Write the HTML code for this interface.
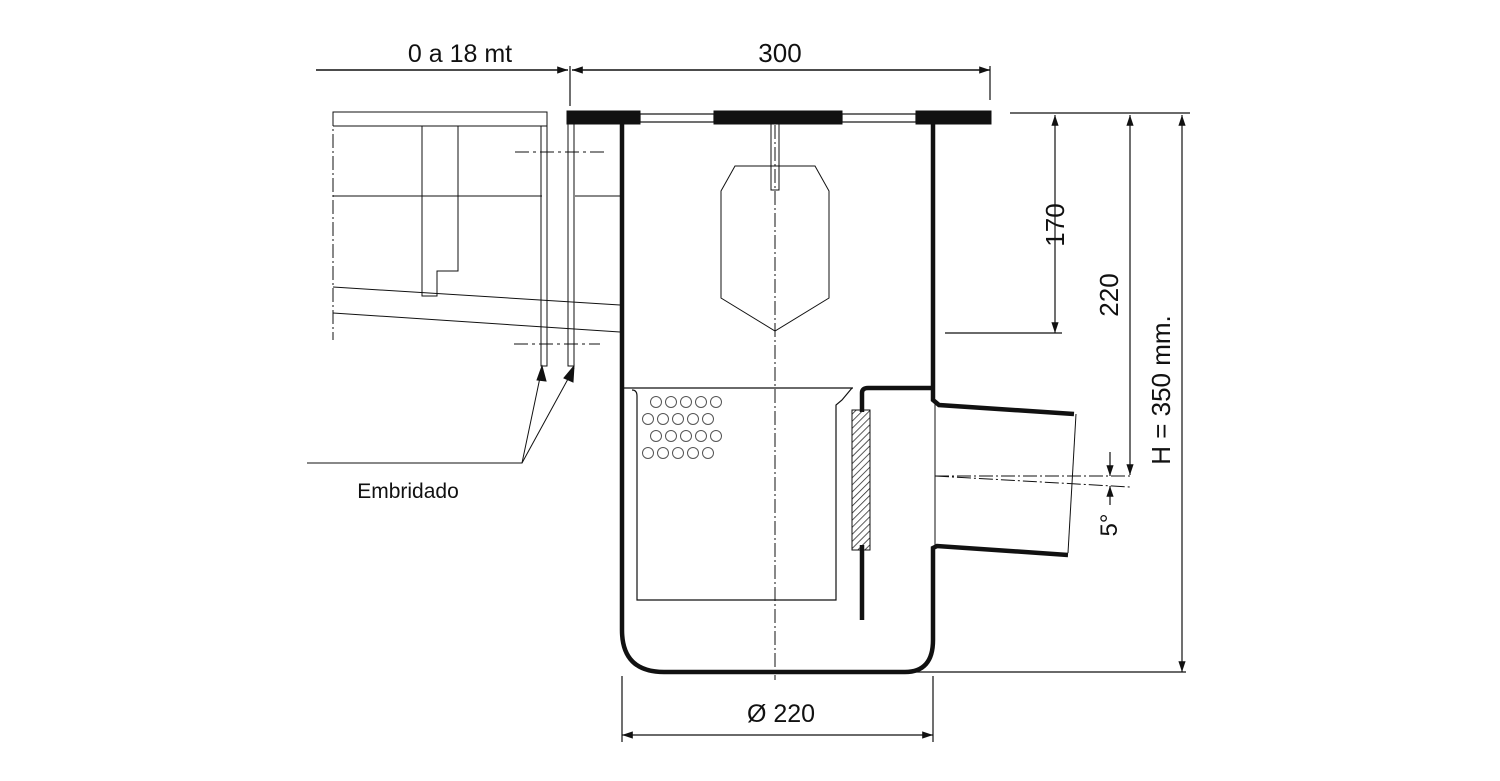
<!DOCTYPE html>
<html><head><style>body{margin:0;background:#fff}svg{display:block}text{font-family:"Liberation Sans",sans-serif;fill:#111}</style></head><body>
<svg width="1500" height="781" viewBox="0 0 1500 781" xmlns="http://www.w3.org/2000/svg">
<defs>
<marker id="a" viewBox="0 0 12 10" refX="12" refY="5" markerWidth="12" markerHeight="9" orient="auto-start-reverse" markerUnits="userSpaceOnUse"><path d="M0,1 L12,5 L0,9Z" fill="#111"/></marker>
<pattern id="h" width="5" height="5" patternUnits="userSpaceOnUse" patternTransform="rotate(45)"><line x1="0" y1="0" x2="0" y2="5" stroke="#222" stroke-width="1.5"/></pattern>
</defs>
<g stroke="#111" fill="none">
<line x1="316" y1="70" x2="568" y2="70" stroke-width="1.5" marker-end="url(#a)"/>
<line x1="572" y1="70" x2="990" y2="70" stroke-width="1.5" marker-start="url(#a)" marker-end="url(#a)"/>
<line x1="570" y1="66" x2="570" y2="106" stroke-width="1.2"/>
<line x1="990" y1="66" x2="990" y2="100" stroke-width="1.2"/>
<rect x="640" y="114" width="74" height="8" stroke-width="1.2"/>
<rect x="842" y="114" width="74" height="8" stroke-width="1.2"/>
<rect x="567" y="111" width="73" height="13" fill="#111"/>
<rect x="714" y="111" width="128" height="13" fill="#111"/>
<rect x="916" y="111" width="75" height="13" fill="#111"/>
<path d="M622,122 V630 Q622,672 664,672 H905 Q933,672 933,640 V548 L937,546 L1068,555" stroke-width="4.5"/>
<path d="M933,122 V400 L939,405 L1074,414" stroke-width="4.5"/>
<line x1="1076" y1="414" x2="1068" y2="553" stroke-width="1"/>
<line x1="935" y1="400" x2="935" y2="548" stroke-width="1"/>
<line x1="622" y1="388" x2="853" y2="388" stroke-width="1.2"/>
<path d="M632,390 Q637,390 637,396 V600 H836 V405 L842,400 L852,388" stroke-width="1.2"/>
<path d="M862,412 V393 Q862,388 868,388 H931" stroke-width="4.5"/>
<rect x="852" y="410" width="18" height="140" fill="url(#h)" stroke-width="1"/>
<line x1="862" y1="545" x2="862" y2="620" stroke-width="4.5"/>
<g stroke-width="1" stroke="#555">
<circle cx="656" cy="402" r="5.5"/><circle cx="671" cy="402" r="5.5"/><circle cx="686" cy="402" r="5.5"/><circle cx="701" cy="402" r="5.5"/><circle cx="716" cy="402" r="5.5"/>
<circle cx="648" cy="419" r="5.5"/><circle cx="663" cy="419" r="5.5"/><circle cx="678" cy="419" r="5.5"/><circle cx="693" cy="419" r="5.5"/><circle cx="708" cy="419" r="5.5"/>
<circle cx="656" cy="436" r="5.5"/><circle cx="671" cy="436" r="5.5"/><circle cx="686" cy="436" r="5.5"/><circle cx="701" cy="436" r="5.5"/><circle cx="716" cy="436" r="5.5"/>
<circle cx="648" cy="453" r="5.5"/><circle cx="663" cy="453" r="5.5"/><circle cx="678" cy="453" r="5.5"/><circle cx="693" cy="453" r="5.5"/><circle cx="708" cy="453" r="5.5"/>
</g>
<line x1="775" y1="125" x2="775" y2="680" stroke-width="1" stroke-dasharray="14,3,2,3"/>
<rect x="771" y="124" width="8" height="66" stroke-width="1"/>
<path d="M735,166 H815 L829,191 V298 L775,331 L721,298 V191Z" stroke-width="1"/>
<g stroke-width="1">
<path d="M333,124 V112 H547 V126 H333"/>
<line x1="333" y1="112" x2="333" y2="340" stroke-dasharray="14,3,2,3"/>
<line x1="333" y1="196" x2="542" y2="196"/><line x1="575" y1="196" x2="620" y2="196"/>
<path d="M422,126 V296 H437 V271 H458 V126"/>
<line x1="333" y1="287" x2="620" y2="305"/>
<line x1="333" y1="313" x2="620" y2="332"/>
<rect x="541" y="126" width="6" height="240"/>
<rect x="568" y="124" width="6" height="242"/>
<line x1="515" y1="152" x2="605" y2="152" stroke-dasharray="14,4,3,4"/>
<line x1="514" y1="344" x2="600" y2="344" stroke-dasharray="14,4,3,4"/>
<polyline points="307,463 522,463 542,368"/>
<line x1="522" y1="463" x2="574" y2="368"/>
</g>
<path d="M537,380 L542,366 L546,381Z M564,378 L574,366 L573,382Z" fill="#111"/>
<g stroke-width="1.2">
<line x1="1010" y1="113" x2="1190" y2="113"/>
<line x1="945" y1="333" x2="1062" y2="333"/>
<line x1="1055" y1="115" x2="1055" y2="333" marker-start="url(#a)" marker-end="url(#a)"/>
<line x1="1130" y1="115" x2="1130" y2="475" marker-start="url(#a)" marker-end="url(#a)"/>
<line x1="1182" y1="115" x2="1182" y2="672" marker-start="url(#a)" marker-end="url(#a)"/>
<line x1="915" y1="672" x2="1186" y2="672"/>
<line x1="935" y1="476" x2="1130" y2="476" stroke-dasharray="14,3,2,3" stroke-width="1"/>
<line x1="935" y1="476" x2="1130" y2="487" stroke-dasharray="14,3,2,3" stroke-width="1"/>
<line x1="1110" y1="452" x2="1110" y2="476" marker-end="url(#a)"/>
<line x1="1110" y1="505" x2="1110" y2="486" marker-end="url(#a)"/>
<line x1="622" y1="676" x2="622" y2="742"/>
<line x1="933" y1="676" x2="933" y2="742"/>
<line x1="622" y1="735" x2="933" y2="735" marker-start="url(#a)" marker-end="url(#a)"/>
</g>
</g>
<text x="460" y="62" font-size="25" text-anchor="middle">0 a 18 mt</text>
<text x="780" y="62" font-size="26" text-anchor="middle">300</text>
<text x="408" y="498" font-size="21" text-anchor="middle">Embridado</text>
<text x="781" y="722" font-size="25" text-anchor="middle">Ø 220</text>
<text transform="translate(1064,225) rotate(-90)" font-size="26" text-anchor="middle">170</text>
<text transform="translate(1118,295) rotate(-90)" font-size="26" text-anchor="middle">220</text>
<text transform="translate(1170,390) rotate(-90)" font-size="26" text-anchor="middle">H = 350 mm.</text>
<text transform="translate(1117,525) rotate(-90)" font-size="24" text-anchor="middle">5°</text>
</svg>
</body></html>
